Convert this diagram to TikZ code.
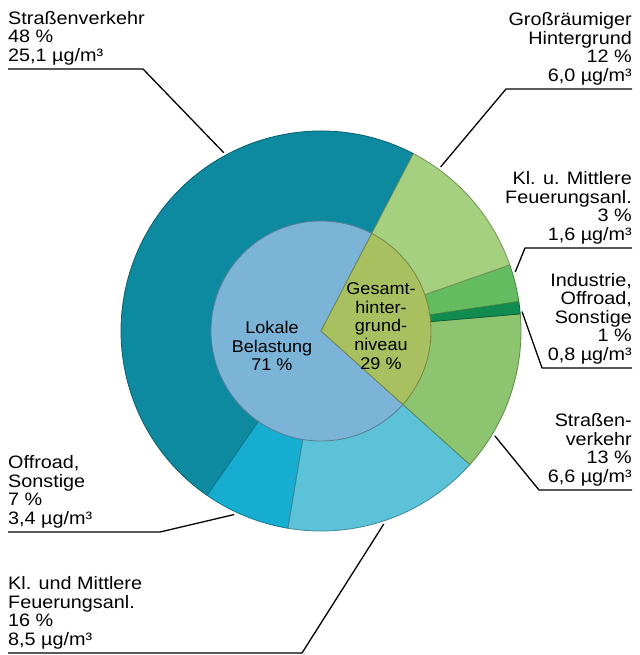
\documentclass[tikz,border=0pt]{standalone}
\usepackage{fontspec}
\setmainfont{Liberation Sans}
\newfontfamily\lblfamily{Liberation Sans}[FakeStretch=1.1]
\newfontfamily\piefamily{Liberation Sans}[FakeStretch=1.06]
\usetikzlibrary{positioning,calc}
\definecolor{pieStrasse}{RGB}{13,138,160}
\definecolor{pieOffroad}{RGB}{22,173,208}
\definecolor{pieFeuerung}{RGB}{92,194,216}
\definecolor{pieLokal}{RGB}{124,180,216}
\definecolor{pieHinter}{RGB}{168,192,96}
\definecolor{pieGross}{RGB}{164,208,128}
\definecolor{pieKlein}{RGB}{100,188,96}
\definecolor{pieIndustrie}{RGB}{16,140,80}
\definecolor{pieStrasseGr}{RGB}{140,196,112}
\tikzset{
  pie/slice/.style={fill=#1, draw=#1!70!black, line width=0.8pt, line join=round},
  pie/lbl/.style={font=\lblfamily\fontsize{18}{18.4}\selectfont, inner sep=0pt,
                  align=left},
  pie/lbl right/.style={pie/lbl, align=right},
  pie/txt/.style={font=\piefamily\fontsize{17}{18.6}\selectfont, inner sep=0pt,
                  align=center},
  pie/leader/.style={draw=black, line width=1.3pt, line join=round},
}

\begin{document}
\begin{tikzpicture}[x=1pt, y=1pt]
  \useasboundingbox (0,0) rectangle (639,-655);
  \coordinate (C) at (321,-331);

  % ---------------- outer ring ----------------
  \foreach \a/\b/\c in {62.5/235.3/pieStrasse, 235.3/260.5/pieOffroad,
                        260.5/318.1/pieFeuerung, -41.9/4.9/pieStrasseGr,
                        4.9/8.5/pieIndustrie, 8.5/19.3/pieKlein,
                        19.3/62.5/pieGross}
    \draw[pie/slice=\c] (C) -- ++(\a:200) arc[start angle=\a, end angle=\b, radius=200] -- cycle;

  % ---------------- inner pie ----------------
  \draw[pie/slice=pieLokal] (C) -- ++(62.5:110)
    arc[start angle=62.5, end angle=318.1, radius=110] -- cycle;
  \draw[pie/slice=pieHinter] (C) -- ++(-41.9:110)
    arc[start angle=-41.9, end angle=62.5, radius=110] -- cycle;

  \node[pie/txt] (t-lokal) at (272,-346) {Lokale\\Belastung\\71 \%};
  \node[pie/txt] (t-hinter) at (381,-326) {Gesamt-\\hinter-\\grund-\\niveau\\29 \%};

  % ---------------- label points on the rim ----------------
  \coordinate (e-strasse)  at ($(C)+(118.6:203)$);
  \coordinate (e-gross)    at ($(C)+(53.9:203)$);
  \coordinate (e-klein)    at ($(C)+(16.9:203)$);
  \coordinate (e-industrie) at ($(C)+(5.5:202)$);
  \coordinate (e-strassegr) at ($(C)+(-31.1:203)$);
  \coordinate (e-offroad)  at ($(C)+(244.7:203)$);
  \coordinate (e-feuerung) at ($(C)+(288:203)$);

  % ---------------- left labels ----------------
  \node[pie/lbl, anchor=south west] (l-strasse) at (8,-65)
    {Straßenverkehr\\48 \%\\25,1 µg/m³};
  \coordinate (c-strasse) at (143,-69);
  \draw[pie/leader] (l-strasse.west |- c-strasse) -- (c-strasse) -- (e-strasse);

  \node[pie/lbl, anchor=south west] (l-offroad) at (8,-528)
    {Offroad,\\Sonstige\\7 \%\\3,4 µg/m³};
  \coordinate (c-offroad) at (160,-532);
  \draw[pie/leader] (l-offroad.west |- c-offroad) -- (c-offroad) -- (e-offroad);

  \node[pie/lbl, anchor=south west] (l-feuerung) at (8,-649)
    {Kl. und Mittlere\\Feuerungsanl.\\16 \%\\8,5 µg/m³};
  \coordinate (c-feuerung) at (302,-653);
  \draw[pie/leader] (l-feuerung.west |- c-feuerung) -- (c-feuerung) -- (e-feuerung);

  % ---------------- right labels ----------------
  \node[pie/lbl right, anchor=south east] (l-gross) at (632,-85)
    {Großräumiger\\Hintergrund\\12 \%\\6,0 µg/m³};
  \coordinate (c-gross) at (506,-89);
  \draw[pie/leader] (l-gross.east |- c-gross) -- (c-gross) -- (e-gross);

  \node[pie/lbl right, anchor=south east] (l-klein) at (632,-244)
    {Kl. u. Mittlere\\Feuerungsanl.\\3 \%\\1,6 µg/m³};
  \coordinate (c-klein) at (525,-248);
  \draw[pie/leader] (l-klein.east |- c-klein) -- (c-klein) -- (e-klein);

  \node[pie/lbl right, anchor=south east] (l-industrie) at (632,-364)
    {Industrie,\\Offroad,\\Sonstige\\1 \%\\0,8 µg/m³};
  \coordinate (c-industrie) at (542,-368);
  \draw[pie/leader] (l-industrie.east |- c-industrie) -- (c-industrie) -- (e-industrie);

  \node[pie/lbl right, anchor=south east] (l-strassegr) at (632,-486)
    {Straßen-\\verkehr\\13 \%\\6,6 µg/m³};
  \coordinate (c-strassegr) at (539,-490);
  \draw[pie/leader] (l-strassegr.east |- c-strassegr) -- (c-strassegr) -- (e-strassegr);
\end{tikzpicture}
\end{document}
